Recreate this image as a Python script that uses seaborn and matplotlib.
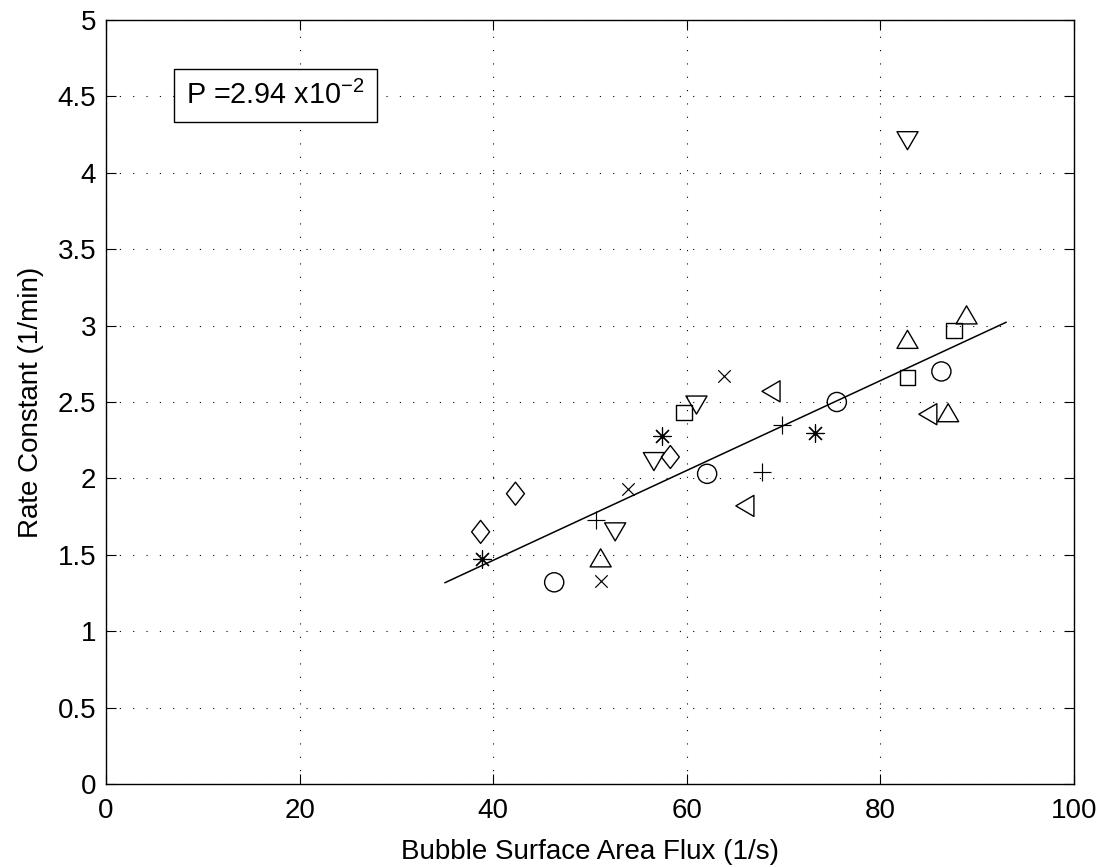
import numpy as np
import pandas as pd
import matplotlib
matplotlib.use("Agg")
import matplotlib.pyplot as plt
from matplotlib.path import Path
import seaborn as sns

# ---- data ----
diamond_x = [38.7, 42.3, 58.3]
diamond_y = [1.65, 1.90, 2.14]
asterisk_x = [38.8, 57.4, 73.2]
asterisk_y = [1.47, 2.28, 2.30]
circle_x = [46.3, 62.1, 75.5, 86.3]
circle_y = [1.32, 2.03, 2.50, 2.70]
plus_x = [50.6, 67.8, 69.8]
plus_y = [1.73, 2.04, 2.35]
cross_x = [51.1, 53.9, 63.8]
cross_y = [1.33, 1.93, 2.67]
tri_down_x = [52.6, 56.6, 61.0, 82.8]
tri_down_y = [1.65, 2.11, 2.48, 4.21]
tri_up_x = [51.1, 82.8, 87.0, 88.9]
tri_up_y = [1.48, 2.91, 2.43, 3.07]
square_x = [59.7, 82.8, 87.6]
square_y = [2.43, 2.66, 2.97]
tri_left_x = [66.0, 68.7, 84.9]
tri_left_y = [1.82, 2.57, 2.42]

fit_x = [35.0, 93.0]
fit_slope = 0.0294
fit_intercept = 0.288

x_ticks = [0, 20, 40, 60, 80, 100]
y_ticks = [0, 0.5, 1, 1.5, 2, 2.5, 3, 3.5, 4, 4.5, 5]
y_tick_labels = ["0", "0.5", "1", "1.5", "2", "2.5", "3", "3.5", "4", "4.5", "5"]
annotation = "P =2.94 x10$^{\u2212 2}$"
x_label = "Bubble Surface Area Flux (1/s)"
y_label = "Rate Constant (1/min)"

# ---- style ----
sns.set_style("ticks")
plt.rcParams["font.family"] = ["Liberation Sans", "DejaVu Sans"]
plt.rcParams["mathtext.fontset"] = "custom"
plt.rcParams["mathtext.rm"] = "Liberation Sans"
plt.rcParams["mathtext.it"] = "Liberation Sans"
plt.rcParams["mathtext.default"] = "regular"
plt.rcParams["lines.scale_dashes"] = False
plt.rcParams["text.color"] = "black"
plt.rcParams["axes.labelcolor"] = "black"
plt.rcParams["xtick.color"] = "black"
plt.rcParams["ytick.color"] = "black"
FS = 20

fig = plt.figure(figsize=(11.07, 8.67), dpi=100)
ax = fig.add_axes([106 / 1107, 1 - 784 / 867, (1074 - 106) / 1107, (784 - 20) / 867])

def closed(verts):
    return Path(verts + [verts[0]], closed=True)

tri_up = closed([(0, 0.857), (-1, -0.857), (1, -0.857)])
tri_down = closed([(0, -0.857), (-1, 0.857), (1, 0.857)])
tri_left = closed([(-0.857, 0), (0.857, 1), (0.857, -1)])
diamond = closed([(0, 1), (0.78, 0), (0, -1), (-0.78, 0)])

filled_groups = [
    (diamond_x, diamond_y, diamond, 275),
    (circle_x, circle_y, "o", 190),
    (tri_down_x, tri_down_y, tri_down, 230),
    (tri_up_x, tri_up_y, tri_up, 230),
    (square_x, square_y, "s", 120),
    (tri_left_x, tri_left_y, tri_left, 230),
]
line_groups = [
    (asterisk_x, asterisk_y, (8, 2, 0), 160),
    (plus_x, plus_y, "+", 155),
    (cross_x, cross_y, "x", 80),
]

for gx, gy, m, s in filled_groups:
    sns.scatterplot(x=gx, y=gy, marker=m, s=s, facecolors="none",
                    edgecolors="black", linewidths=1.0, ax=ax, zorder=3)
for gx, gy, m, s in line_groups:
    sns.scatterplot(x=gx, y=gy, marker=m, s=s, color="black",
                    linewidths=0.85, ax=ax, zorder=3)

fit_df = pd.DataFrame({"x": fit_x,
                       "y": [fit_intercept + fit_slope * v for v in fit_x]})
sns.lineplot(data=fit_df, x="x", y="y", color="black", lw=1.1, ax=ax, zorder=2)

ax.set_xlim(0, 100)
ax.set_ylim(0, 5)
ax.set_xticks(x_ticks)
ax.set_xticklabels([str(t) for t in x_ticks])
ax.set_yticks(y_ticks)
ax.set_yticklabels(y_tick_labels)
ax.tick_params(direction="in", length=7, width=0.8, labelsize=FS,
               top=True, right=True, colors="black")
ax.tick_params(axis="x", pad=10)
ax.tick_params(axis="y", pad=7)
for sp in ax.spines.values():
    sp.set_visible(True)
    sp.set_linewidth(1.0)
    sp.set_color("black")
ax.grid(True, color="black", linestyle=(0, (0.8, 8.8)), linewidth=0.8)
ax.set_axisbelow(True)

ax.set_xlabel(x_label, fontsize=FS, labelpad=11)
ax.set_ylabel(y_label, fontsize=FS, labelpad=10)

ax.text(8.3, 4.45, annotation, fontsize=20.7, ha="left", va="baseline",
        bbox=dict(boxstyle="square,pad=0.42", facecolor="white",
                  edgecolor="black", linewidth=1.0), zorder=5)

fig.savefig("out.png", dpi=100, facecolor="white")
